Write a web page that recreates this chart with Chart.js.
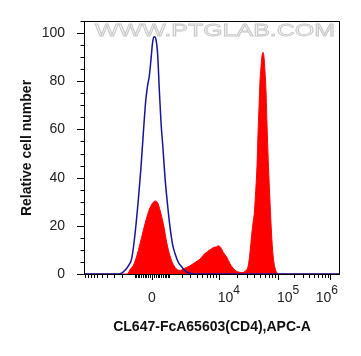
<!DOCTYPE html>
<html><head><meta charset="utf-8">
<script src="https://cdn.jsdelivr.net/npm/chart.js@4.4.1/dist/chart.umd.min.js"></script>
<style>html,body{margin:0;padding:0;background:#fff;}canvas{display:block;}</style>
</head><body>
<canvas id="c" width="361" height="356"></canvas>
<script>
// x: display channel (0–1024) on the biexponential APC-A axis; y: relative cell number
const controlX = [0,136,152,166,180,191,204,217,227,237,247,254,261,267,275,281,288,295,301,308,316,324,333,344,355,364,377,391,400,412,424,440,1024];
const controlY = [0,0,0.5,1.8,3.8,6.5,16.5,30.5,43,58,72,78,82,88,96.5,98.5,97.3,90.5,77,63,52,40,30,19.5,12,8.5,4.9,3,1.8,0.8,0.3,0,0];
const stainedX = [0,168,177,184,197,211,224,237,251,264,275,284,291,296,304,317,331,344,357,371,384,396,411,424,444,464,477,484,491,498,504,517,531,537,547,557,571,584,604,624,636,644,657,664,671,677,681,686,692,696,700,704,708,712,716,720,724,728,732,737,744,750,756,764,772,780,1024];
const stainedY = [0,0,0.4,1.8,3.5,7.5,12.5,18,23.5,27.5,29.5,30.3,30,29.3,26.5,21,13,7.5,4,2,1.5,2,2.8,3.4,4.8,6.2,7.8,8.6,9,9.8,10,11,11.3,11.7,11,9,7,4.3,1.6,0.7,0.6,1.1,3.5,9,16.5,22,25,33,45,58,69,80,86,90.5,92,90,84,76,62,47,30,17,8,2.5,0.5,0,0];
const yTickValues = [0,20,40,60,80,100];
const xTickValues = [0,1e4,1e5,1e6];
const xTickLabels = ['0','10^4','10^5','10^6'];
const xMinorValues = [-1e4,-9e3,-8e3,-7e3,-6e3,-5e3,-4e3,-3e3,-2e3,-1e3,-900,-800,-700,-600,-500,-400,-300,-200,-100,
  100,200,300,400,500,600,700,800,900,1e3,2e3,3e3,4e3,5e3,6e3,7e3,8e3,9e3,
  2e4,3e4,4e4,5e4,6e4,7e4,8e4,9e4,2e5,3e5,4e5,5e5,6e5,7e5,8e5,9e5];

// biexponential transform: fluorescence value -> display channel
function toChannel(v){
  const knots = [[1e4,539],[1e5,776],[1e6,984]];
  if (v >= 1e4){
    for (let i=0;i<knots.length-1;i++){
      const [a,pa]=knots[i],[b,pb]=knots[i+1];
      if (v<=b) return pa+(pb-pa)*Math.log10(v/a)/Math.log10(b/a);
    }
    return knots[knots.length-1][1];
  }
  const k = 267/Math.asinh(1e4/1280);
  return 272 + Math.sign(v)*k*Math.asinh(Math.abs(v)/1280);
}

const FONT = '"Liberation Sans", Arial, sans-serif';

const decor = {
  id:'decor',
  beforeDatasetsDraw(chart){
    const ctx = chart.ctx;
    ctx.save();
    const txt = 'WWW.PTGLAB.COM';
    ctx.font = '17px ' + FONT;
    const w0 = ctx.measureText(txt).width;
    const sx = 240 / w0;
    ctx.translate(95, 35.5);
    ctx.scale(sx, 1);
    ctx.textAlign='left'; ctx.textBaseline='alphabetic';
    ctx.fillStyle='#f6f6f6'; ctx.strokeStyle='#c8c8c8'; ctx.lineWidth=0.8;
    ctx.fillText(txt, 0, 0);
    ctx.strokeText(txt, 0, 0);
    ctx.restore();
  },
  afterDraw(chart){
    const {ctx, chartArea:a, scales:{x,y}} = chart;
    ctx.save();
    ctx.strokeStyle='#000'; ctx.lineWidth=1;
    ctx.strokeRect(a.left+0.5, a.top+0.5, a.right-a.left-1, a.bottom-a.top-1);
    // y ticks
    ctx.beginPath();
    for (let v=0; v<=105; v+=5){
      const py = Math.round(y.getPixelForValue(v))+0.5;
      const len = v%20===0 ? 7 : 3.5;
      ctx.moveTo(a.left-len, py); ctx.lineTo(a.left, py);
    }
    // x ticks
    xMinorValues.forEach(v=>{
      const px = Math.round(x.getPixelForValue(toChannel(v)))+0.5;
      ctx.moveTo(px, a.bottom); ctx.lineTo(px, a.bottom+3);
    });
    xTickValues.forEach(v=>{
      const px = Math.round(x.getPixelForValue(toChannel(v)))+0.5;
      ctx.moveTo(px, a.bottom); ctx.lineTo(px, a.bottom+5);
    });
    ctx.stroke();
    // x tick labels (with superscript exponents)
    ctx.fillStyle='#222'; ctx.textBaseline='alphabetic';
    xTickValues.forEach((v,i)=>{
      const px = x.getPixelForValue(toChannel(v));
      const lab = xTickLabels[i];
      if (lab.includes('^')){
        const [b,e] = lab.split('^');
        ctx.font='14px '+FONT; const wb = ctx.measureText(b).width;
        ctx.font='12px '+FONT; const we = ctx.measureText(e).width;
        let left = px - 1;
        if (left+wb+we > a.right-2) left = a.right-2-wb-we;
        ctx.textAlign='left';
        ctx.font='14px '+FONT; ctx.fillText(b, left, a.bottom+27);
        ctx.font='12px '+FONT; ctx.fillText(e, left+wb, a.bottom+18.5);
      } else {
        ctx.textAlign='center'; ctx.font='14px '+FONT;
        ctx.fillText(lab, px, a.bottom+27);
      }
    });
    ctx.restore();
  }
};

new Chart(document.getElementById('c'), {
  type:'line',
  data:{datasets:[
    {label:'Control', data:controlX.map((v,i)=>({x:v,y:controlY[i]})), borderColor:'#15159a', borderWidth:1.5,
     fill:false, cubicInterpolationMode:'monotone', pointRadius:0, order:0},
    {label:'CL647-FcA65603', data:stainedX.map((v,i)=>({x:v,y:stainedY[i]})), borderColor:'#ff0000', backgroundColor:'#ff0000',
     borderWidth:1, fill:'origin', cubicInterpolationMode:'monotone', pointRadius:0, order:1}
  ]},
  options:{
    responsive:false, animation:false, devicePixelRatio:1,
    layout:{padding:{left:0,right:21,top:21,bottom:0}},
    plugins:{legend:{display:false}, tooltip:{enabled:false}},
    scales:{
      x:{type:'linear', min:0, max:1024, grid:{display:false}, border:{display:false},
         ticks:{display:false},
         afterBuildTicks(s){ s.ticks = xTickValues.map(v=>({value:toChannel(v)})); },
         afterFit(s){ s.height = 81; },
         title:{display:true, text:'CL647-FcA65603(CD4),APC-A', color:'#111',
                font:{family:FONT, size:14, weight:'bold'}, padding:{top:0,bottom:20}}},
      y:{type:'linear', min:-0.4, max:105, grid:{display:false}, border:{display:false},
         afterBuildTicks(s){ s.ticks = yTickValues.map(v=>({value:v})); },
         ticks:{font:{family:FONT, size:14}, color:'#222', padding:11, callback:v=>String(v)},
         afterFit(s){ s.width = 84; },
         title:{display:true, text:'Relative cell number', color:'#111',
                font:{family:FONT, size:14, weight:'bold'}, padding:{top:19,bottom:0}}}
    }
  },
  plugins:[decor]
});
</script>
</body></html>
